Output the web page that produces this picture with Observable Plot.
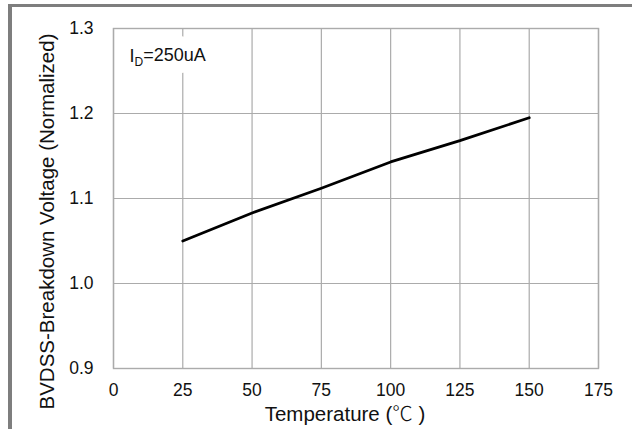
<!DOCTYPE html>
<html>
<head>
<meta charset="utf-8">
<script src="https://cdn.jsdelivr.net/npm/d3@7"></script>
<script src="https://cdn.jsdelivr.net/npm/@observablehq/plot@0.6"></script>
<style>
  html, body { margin: 0; padding: 0; background: #fff; }
  svg { display: block; }
</style>
</head>
<body>
<div id="wrap"></div>
<script>
// Data
const temperatures = [25, 50, 75, 100, 125, 150];
const bvdssNormalized = [1.050, 1.083, 1.112, 1.143, 1.168, 1.195];
const xTicks = [0, 25, 50, 75, 100, 125, 150, 175];
const yTicks = [0.9, 1.0, 1.1, 1.2, 1.3];
const xTitle = "Temperature (℃)";
const yTitle = "BVDSS-Breakdown Voltage (Normalized)";
const annotation = "ID=250uA";

const data = temperatures.map((t, i) => ({t, v: bvdssNormalized[i]}));
const gridColor = "#ababab";
const font = "'Liberation Sans', Arial, sans-serif";

const chart = Plot.plot({
  width: 632, height: 429,
  marginLeft: 113, marginRight: 34, marginTop: 28, marginBottom: 61,
  style: {fontFamily: font, fontSize: "17.5px", color: "#111", background: "white"},
  x: {domain: [0, 175], label: null},
  y: {domain: [0.9, 1.3], label: null},
  marks: [
    Plot.gridX(xTicks, {stroke: gridColor, strokeOpacity: 1, strokeWidth: 1.2}),
    Plot.gridY(yTicks, {stroke: gridColor, strokeOpacity: 1, strokeWidth: 1.2}),
    Plot.frame({stroke: gridColor, strokeWidth: 1.4}),
    Plot.axisX(xTicks, {tickSize: 0, tickPadding: 15, label: null, fontSize: 17.5}),
    Plot.axisY(yTicks, {tickSize: 0, tickPadding: 20, label: null, tickFormat: d3.format(".1f"), fontSize: 17.5}),
    Plot.line(data, {x: "t", y: "v", stroke: "#000", strokeWidth: 2.8}),
    // white halo behind the annotation (interrupts the grid line like the reference)
    Plot.text([annotation], {frameAnchor: "top-left", textAnchor: "start", lineAnchor: "top",
      dx: 16, dy: 21, text: d => d, fontSize: 18, fill: "white",
      stroke: "white", strokeWidth: 24, strokeLinejoin: "round"}),
    Plot.text([annotation], {frameAnchor: "top-left", textAnchor: "start", lineAnchor: "top",
      dx: 16, dy: 21, text: d => d, fontSize: 18, fill: "#111"}),
    Plot.text([xTitle], {frameAnchor: "bottom", textAnchor: "middle", lineAnchor: "middle", dx: -11, dy: 46,
      text: d => d, fontSize: 20.5, fill: "#111"}),
    Plot.text([yTitle], {frameAnchor: "left", textAnchor: "middle", lineAnchor: "middle", rotate: -90, dx: -66, dy: 23,
      text: d => d, fontSize: 20.5, fill: "#111"})
  ]
});

const svg = d3.select(chart);

// Subscript "D" in the annotation
svg.selectAll("text").filter(function() { return this.textContent === annotation; })
  .each(function() {
    const t = d3.select(this);
    t.text(null);
    t.append("tspan").text("I");
    t.append("tspan").attr("dy", "0.28em").attr("font-size", "12").text("D");
    t.append("tspan").attr("dy", "-0.28em").text("=250uA");
  });

// Degree-Celsius sign in a CJK face, as in the reference
svg.selectAll("text").filter(function() { return this.textContent === xTitle; })
  .each(function() {
    const t = d3.select(this);
    t.text(null);
    t.append("tspan").text("Temperature (");
    t.append("tspan").attr("font-family", "'Noto Sans CJK SC', sans-serif").attr("font-weight", 300).text("℃");
    t.append("tspan").text(" )");
  });

// Outer gray border of the reference image (left + top edges) as one L-shaped polygon
svg.append("polygon")
  .attr("points", "8,4 632,4 632,7 12,7 12,429 8,429")
  .attr("fill", "#7e7e7e");

document.getElementById("wrap").appendChild(chart);
</script>
</body>
</html>
